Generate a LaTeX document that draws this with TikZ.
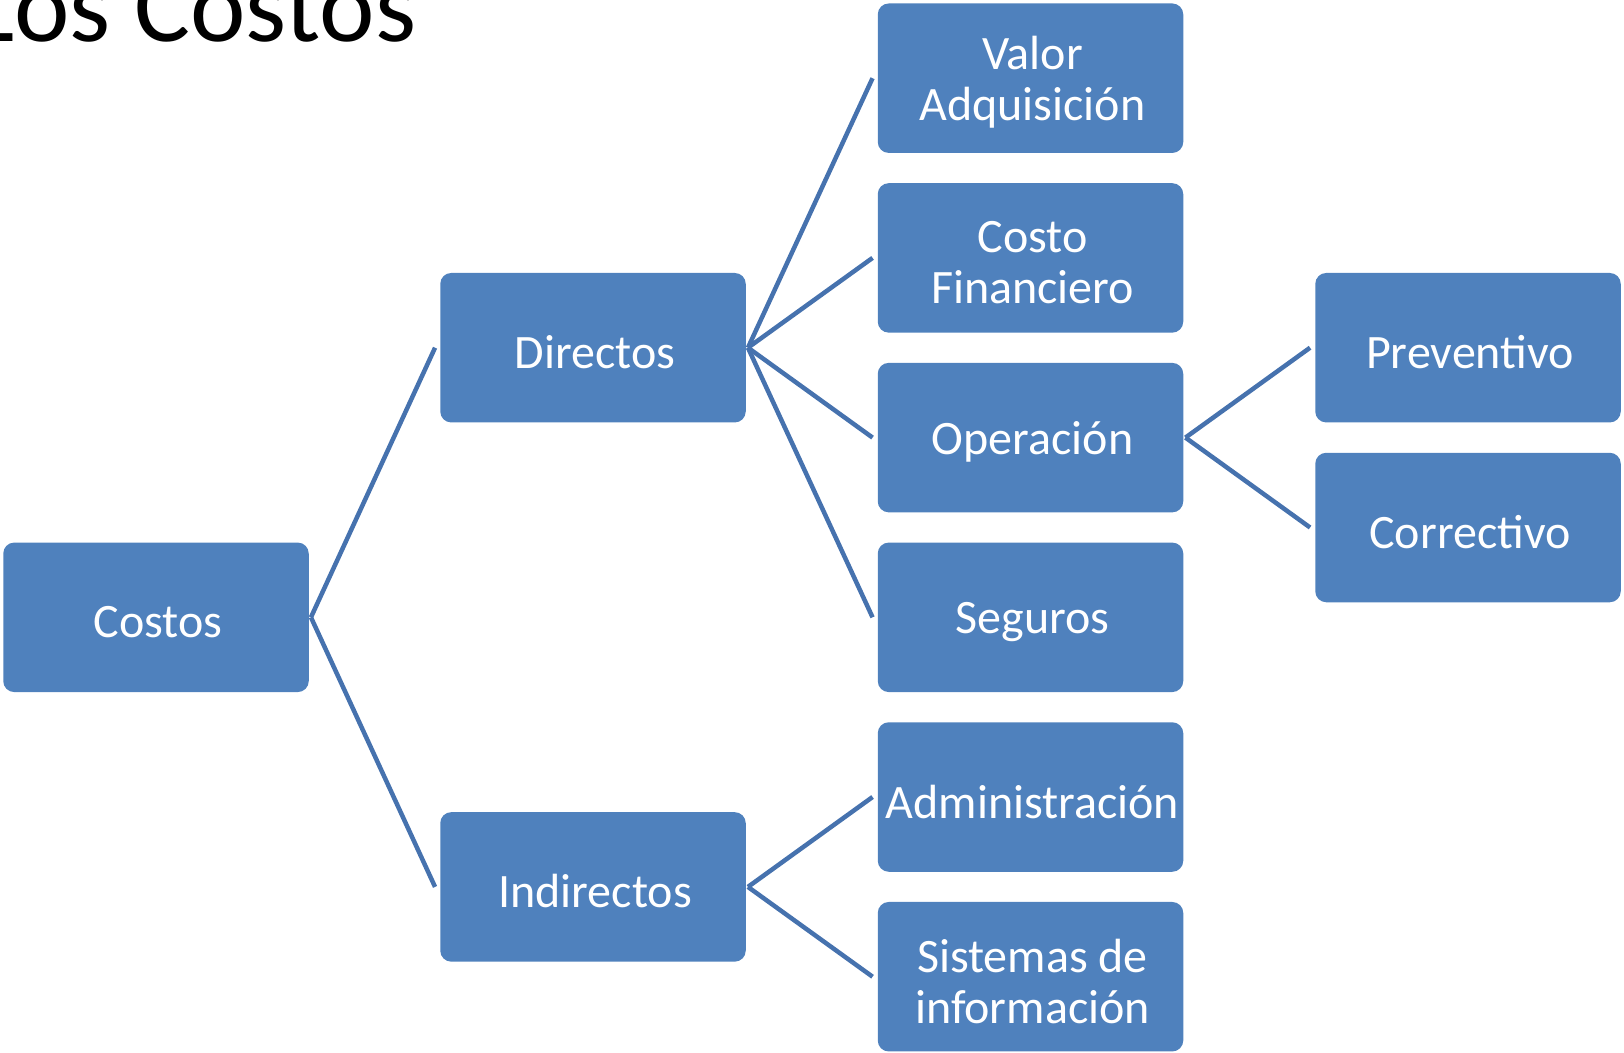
\documentclass[tikz,border=0pt]{standalone}
\usepackage{fontspec}
\setmainfont{Carlito}
\usetikzlibrary{calc}
\definecolor{boxblue}{HTML}{4F81BD}
\definecolor{lineblue}{HTML}{4672AE}
\tikzset{
  box/.style={fill=boxblue, draw=none, rounded corners=11pt, minimum width=305.5pt,
    minimum height=149.5pt, inner sep=0pt},
  txt/.style={inner sep=0pt, align=center, text=white, xshift=2pt, yshift=-4.5pt,
    font=\fontsize{48}{51}\selectfont},
  conn/.style={draw=lineblue, line width=4.5pt}
}
\begin{document}
\begin{tikzpicture}[x=1pt,y=-1pt]
\useasboundingbox (0,0) rectangle (1624,1052);
\node[anchor=base west, inner sep=0pt, font=\fontsize{105}{110}\selectfont] (title) at (-30,41) {Los Costos};
\node[box, label={[txt]center:Costos}] (costos) at (156,617.3) {};
\node[box, label={[txt]center:Directos}] (dir) at (593,347.7) {};
\node[box, label={[txt]center:Indirectos}] (ind) at (593,886.9) {};
\node[box, label={[txt]center:{Valor\\Adquisición}}] (valor) at (1030.5,78.2) {};
\node[box, label={[txt]center:{Costo\\Financiero}}] (fin) at (1030.5,257.9) {};
\node[box, label={[txt]center:Operación}] (op) at (1030.5,437.6) {};
\node[box, label={[txt]center:Seguros}] (seg) at (1030.5,617.3) {};
\node[box, label={[txt]center:Administración}] (adm) at (1030.5,797.0) {};
\node[box, label={[txt]center:{Sistemas de\\información}}] (sis) at (1030.5,976.7) {};
\node[box, label={[txt]center:Preventivo}] (prev) at (1468,347.7) {};
\node[box, label={[txt]center:Correctivo}] (corr) at (1468,527.5) {};
\foreach \p/\c in {costos/dir,costos/ind,dir/valor,dir/fin,dir/op,dir/seg,ind/adm,ind/sis,op/prev,op/corr}{
  \draw[conn] ($(\p.east)+(2,0)$) -- ($(\c.west)+(-5,0)$);
}
\end{tikzpicture}
\end{document}
